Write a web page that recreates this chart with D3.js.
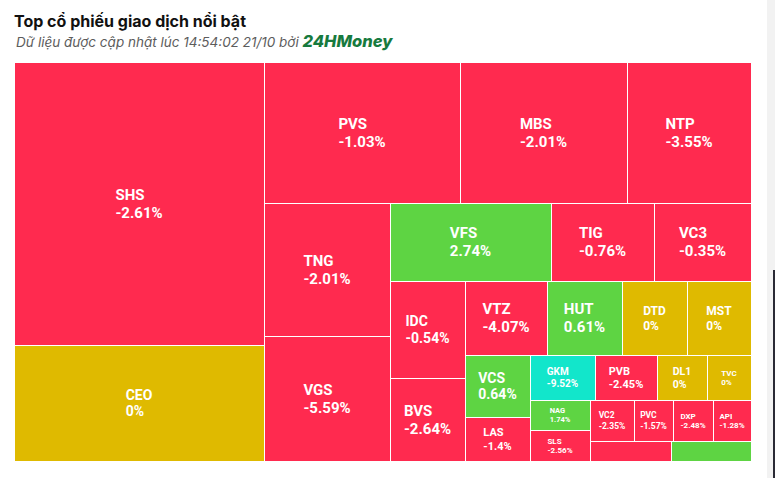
<!DOCTYPE html>
<html>
<head>
<meta charset="utf-8">
<script src="https://cdn.jsdelivr.net/npm/d3@7/dist/d3.min.js"></script>
<style>
  html, body { margin: 0; padding: 0; background: #fff; }
  svg { display: block; }
</style>
</head>
<body>
<svg id="chart" width="775" height="478"></svg>
<script>
// ---------- DATA ----------
const tickers = ["SHS","CEO","PVS","MBS","NTP","TNG","VGS","VFS","TIG","VC3",
                 "IDC","BVS","VTZ","HUT","DTD","MST","VCS","LAS","GKM","PVB",
                 "DL1","TVC","NAG","SLS","VC2","PVC","DXP","API","",""];
const volumes = [70750,29000,27636,23547,17484,16758,15750,12558,8034,7566,
                 7275,6225,6068,5550,4810,4736,4030,2860,2925,2790,
                 2250,1980,1800,1860,1804,1599,1640,1558,1620,1600];
const changes = [-2.61,0,-1.03,-2.01,-3.55,-2.01,-5.59,2.74,-0.76,-0.35,
                 -0.54,-2.64,-4.07,0.61,0,0,0.64,-1.4,-9.52,-2.45,
                 0,0,1.74,-2.56,-2.35,-1.57,-2.48,-1.28,null,null];
const states  = ["down","ref","down","down","down","down","down","up","down","down",
                 "down","down","down","up","ref","ref","up","down","floor","down",
                 "ref","ref","up","down","down","down","down","down","down","up"];
const titleText = "Top cổ phiếu giao dịch nổi bật";
const subtitleText = "Dữ liệu được cập nhật lúc 14:54:02 21/10 bởi ";
const brandText = "24HMoney";

// ---------- STYLE ----------
const stateColor = { down: "#ff2a4f", up: "#5ed443", ref: "#dfba00", floor: "#12e6cb" };
const labelSize = { SHS:15, CEO:14, PVS:15, MBS:15, NTP:15, TNG:15, VGS:15, VFS:15, TIG:15, VC3:15,
  IDC:14, BVS:15, VTZ:15, HUT:15, DTD:12, MST:12, VCS:14, LAS:11, GKM:10, PVB:11,
  DL1:10.5, TVC:8, NAG:7.5, SLS:8, VC2:8.5, PVC:8.5, DXP:8, API:8 };
const FONT = "Roboto, 'Noto Sans', Arial, sans-serif";
const HEAD_FONT = "Inter, Roboto, 'Noto Sans', sans-serif";

const svg = d3.select("#chart");

// Title & subtitle
svg.append("text").attr("x", 14).attr("y", 27)
  .attr("font-family", HEAD_FONT).attr("font-weight", 700).attr("font-size", 16)
  .attr("fill", "#111").text(titleText);
const sub = svg.append("text").attr("x", 16).attr("y", 47)
  .attr("font-family", HEAD_FONT).attr("font-style", "italic").attr("font-size", 13.5)
  .attr("fill", "#5c5c5c");
sub.append("tspan").text(subtitleText);
sub.append("tspan").attr("font-weight", 800).attr("font-size", 16.5).attr("fill", "#177a3e")
  .text(brandText);

// Right-edge scrollbar strip
svg.append("rect").attr("x", 767).attr("y", 0).attr("width", 8).attr("height", 478).attr("fill", "#f2f2f2");
svg.append("rect").attr("x", 773).attr("y", 270).attr("width", 2).attr("height", 208).attr("fill", "#2a2a35");

// ---------- TREEMAP (Highcharts-style squarified, alternating direction) ----------
function hcSquarified(parent, x0, y0, x1, y1) {
  const nodes = parent.children;
  const W = x1 - x0, H = y1 - y0, total = parent.value;
  const rects = [];
  const plot = { x: x0, y: y0 };
  const g = { height: H, width: W, direction: 0, total: 0, nW: 0, lW: 0, nH: 0, lH: 0,
              elArr: [], lP: { total: 0, lH: 0, nH: 0, lW: 0, nW: 0, nR: 0, lR: 0 } };
  const ar = (w, h) => Math.max(w / h, h / w);
  function add(el) {
    g.lP.total = g.elArr[g.elArr.length - 1];
    g.total += el;
    if (g.direction === 0) {
      g.lW = g.nW;
      g.lP.lH = g.lP.total / g.lW;
      g.lP.lR = ar(g.lW, g.lP.lH);
      g.nW = g.total / g.height;
      g.lP.nH = g.lP.total / g.nW;
      g.lP.nR = ar(g.nW, g.lP.nH);
    } else {
      g.lH = g.nH;
      g.lP.lW = g.lP.total / g.lH;
      g.lP.lR = ar(g.lP.lW, g.lH);
      g.nH = g.total / g.width;
      g.lP.nW = g.lP.total / g.nH;
      g.lP.nR = ar(g.lP.nW, g.nH);
    }
    g.elArr.push(el);
  }
  function calc(last) {
    let gW = g.lW, gH = g.lH, keep;
    const end = g.elArr.length - 1;
    if (last) { gW = g.nW; gH = g.nH; } else { keep = g.elArr[end]; }
    g.elArr.forEach((p, i) => {
      if (last || i < end) {
        let pW, pH;
        if (g.direction === 0) { pW = gW; pH = p / pW; } else { pH = gH; pW = p / pH; }
        rects.push({ x: plot.x, y: plot.y, w: pW, h: pH });
        if (g.direction === 0) plot.y += pH; else plot.x += pW;
      }
    });
    g.nW = 0; g.lW = 0; g.elArr = []; g.total = 0;
    if (g.direction === 0) g.width -= gW; else g.height -= gH;
    plot.y = y0 + (H - g.height);
    plot.x = x0 + (W - g.width);
    g.direction = 1 - g.direction;
    if (!last) add(keep);
  }
  nodes.forEach((c, i) => {
    add(W * H * c.value / total);
    if (g.lP.nR > g.lP.lR) calc(false);
    if (i === nodes.length - 1) calc(true);
  });
  nodes.forEach((c, i) => {
    const r = rects[i];
    c.x0 = r.x; c.y0 = r.y; c.x1 = r.x + r.w; c.y1 = r.y + r.h;
  });
}

const leaves = tickers.map((t, i) => ({ name: t, value: volumes[i], change: changes[i], state: states[i] }));
const root = d3.hierarchy({ children: leaves }).sum(d => d.value || 0);

const X0 = 14, Y0 = 62, TW = 737, TH = 399;
d3.treemap().tile(hcSquarified).size([TW, TH]).round(true)(root);

const gMap = svg.append("g").attr("transform", `translate(${X0},${Y0})`);
const cells = gMap.selectAll("g.cell").data(root.leaves()).join("g").attr("class", "cell");

cells.append("rect")
  .attr("x", d => d.x0 + 0.5).attr("y", d => d.y0 + 0.5)
  .attr("width", d => Math.max(0, d.x1 - d.x0))
  .attr("height", d => Math.max(0, d.y1 - d.y0))
  .attr("fill", d => stateColor[d.data.state])
  .attr("stroke", "#ffffff").attr("stroke-width", 1);

cells.filter(d => d.data.name && labelSize[d.data.name]).each(function (d) {
  const fs = labelSize[d.data.name];
  const lh = fs * 1.2;
  const cx = (d.x0 + d.x1) / 2, cy = (d.y0 + d.y1) / 2;
  const t = d3.select(this).append("text")
    .attr("font-family", FONT).attr("font-weight", 700).attr("font-size", fs)
    .attr("fill", "#ffffff");
  const l1 = t.append("tspan").text(d.data.name);
  const l2 = t.append("tspan").text(d.data.change + "%");
  const w = Math.max(l1.node().getComputedTextLength(), l2.node().getComputedTextLength());
  const left = cx - w / 2;
  l1.attr("x", left).attr("y", cy - lh / 2 + fs * 0.36);
  l2.attr("x", left).attr("y", cy + lh / 2 + fs * 0.36);
});
</script>
</body>
</html>
